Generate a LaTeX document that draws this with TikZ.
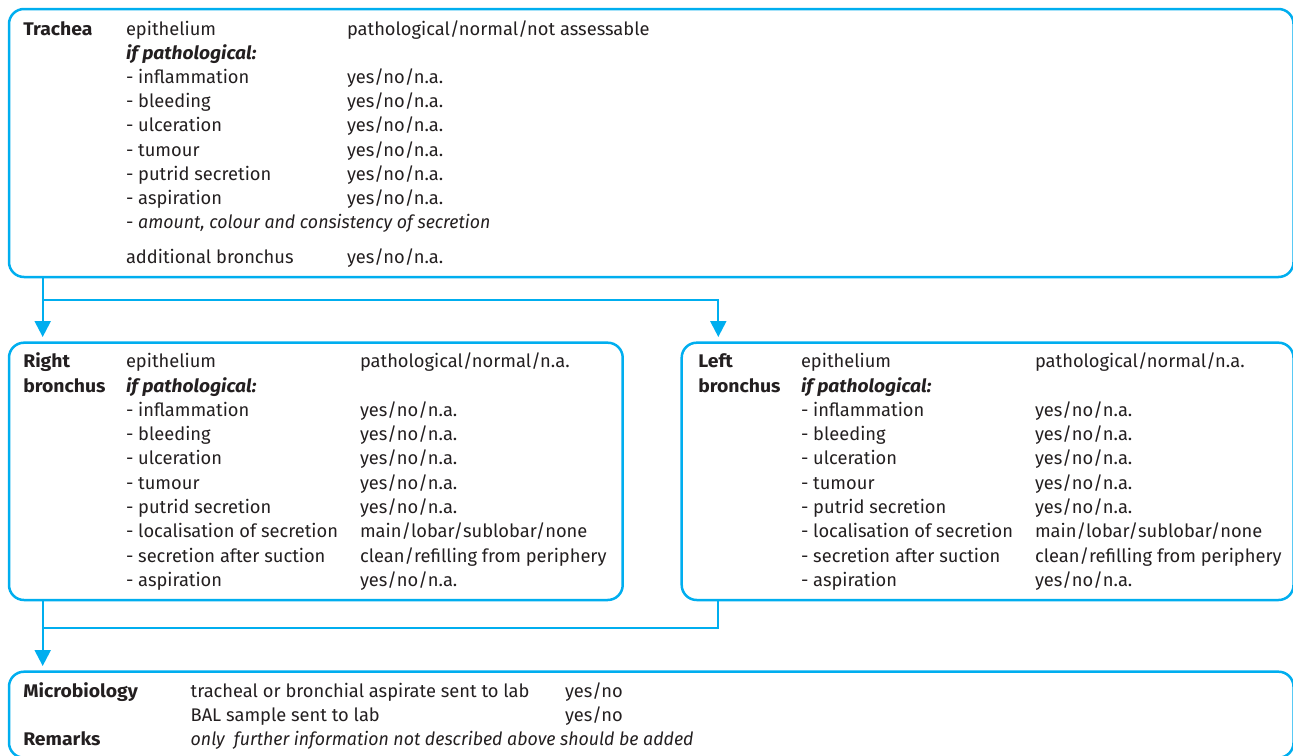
\documentclass[tikz,border=0pt]{standalone}
\usepackage{fontspec}
\setmainfont{Fira Sans}[
  ItalicFeatures={FakeStretch=0.97},
  BoldFeatures={FakeStretch=1.06},
  BoldItalicFeatures={FakeStretch=1.05}]
\usetikzlibrary{arrows.meta}
\definecolor{lineblue}{RGB}{0,174,239}
\definecolor{ink}{RGB}{35,31,32}
\begin{document}
\begin{tikzpicture}[x=1pt,y=-1pt,
  box/.style={draw=lineblue,line width=2.5pt,rounded corners=15pt,anchor=north west,
    inner sep=0pt,outer sep=0pt},
  conn/.style={draw=lineblue,line width=2.2pt},
  tip/.style={-{Triangle[width=16pt,length=16pt]}},
  txt/.style={anchor=base west,inner sep=0pt,outer sep=0pt,text=ink,
    font=\fontsize{18.3}{22}\selectfont},
  head/.style={txt,font=\fontsize{18.3}{22}\selectfont\bfseries},
  sub/.style={txt,font=\fontsize{18.3}{22}\selectfont\bfseries\itshape},
  note/.style={txt,font=\fontsize{18.3}{22}\selectfont\itshape}]
\useasboundingbox (0,0) rectangle (1293,755);

% boxes
\node[box,minimum width=1284.5pt,minimum height=268pt] (trachea) at (9,9) {};
\node[box,minimum width=613.7pt,minimum height=257.3pt] (rb) at (9,342.7) {};
\node[box,minimum width=611.8pt,minimum height=257.3pt] (lb) at (681.7,342.7) {};
\node[box,minimum width=1284.5pt,minimum height=86pt] (micro) at (9,671.7) {};

% connectors
\coordinate (j1) at (42.7,300);
\coordinate (j2) at (42.7,628.3);
\draw[conn,tip] ([xshift=33.7pt]trachea.south west) -- ([xshift=33.7pt,yshift=5.7pt]rb.north west);
\draw[conn,tip] (j1) -| ([xshift=36.6pt,yshift=5.7pt]lb.north west);
\draw[conn,tip] ([xshift=33.7pt]rb.south west) -- ([xshift=33.7pt,yshift=5.7pt]micro.north west);
\draw[conn] (j2) -| ([xshift=36.6pt]lb.south west);

% trachea
\node[head] (t-head) at (23.3,35) {Trachea};
\node[txt] (t-epi) at (126,35) {epithelium};
\node[txt] (t-epiv) at (347,35) {pathological/normal/not assessable};
\node[sub] (t-if) at (126,59.2) {if pathological:};
\foreach \lab [count=\i] in {inflammation,bleeding,ulceration,tumour,putrid secretion,aspiration}{
  \node[txt] (t-item\i) at (126,59.2+24.2*\i) {- \lab};
  \node[txt] (t-val\i) at (347,59.2+24.2*\i) {yes/no/n.a.};
}
\node[txt] (t-amount) at (126,228.6) {- \textit{amount, colour and consistency of secretion}};
\node[txt] (t-add) at (126,263.3) {additional bronchus};
\node[txt] (t-addv) at (347,263.3) {yes/no/n.a.};

% right and left bronchus
\foreach \side/\x/\first in {r/0/Right,l/675/Left}{
  \node[head] (\side-head1) at (23.3+\x,367.7) {\first};
  \node[head] (\side-head2) at (23.3+\x,392) {bronchus};
  \node[txt] (\side-epi) at (126+\x,367.7) {epithelium};
  \node[txt] (\side-epiv) at (360+\x,367.7) {pathological/normal/n.a.};
  \node[sub] (\side-if) at (126+\x,392) {if pathological:};
  \foreach \lab/\val [count=\i] in {inflammation/yes\slash no\slash n.a.,
      bleeding/yes\slash no\slash n.a.,
      ulceration/yes\slash no\slash n.a.,
      tumour/yes\slash no\slash n.a.,
      putrid secretion/yes\slash no\slash n.a.,
      localisation of secretion/main\slash lobar\slash sublobar\slash none,
      secretion after suction/clean\slash refilling from periphery,
      aspiration/yes\slash no\slash n.a.}{
    \node[txt] (\side-item\i) at (126+\x,392+24.3*\i) {- \lab};
    \node[txt] (\side-val\i) at (360+\x,392+24.3*\i) {\val};
  }
}

% microbiology and remarks
\node[head] (m-head) at (23.3,697.3) {Microbiology};
\node[txt] (m-asp) at (190.7,697.3) {tracheal or bronchial aspirate sent to lab};
\node[txt] (m-aspv) at (565,697.3) {yes/no};
\node[txt] (m-bal) at (190.7,721.7) {BAL sample sent to lab};
\node[txt] (m-balv) at (565,721.7) {yes/no};
\node[head] (m-rem) at (23.3,745.5) {Remarks};
\node[note] (m-remv) at (190.7,745.5) {only\ \ further information not described above should be added};
\end{tikzpicture}
\end{document}
